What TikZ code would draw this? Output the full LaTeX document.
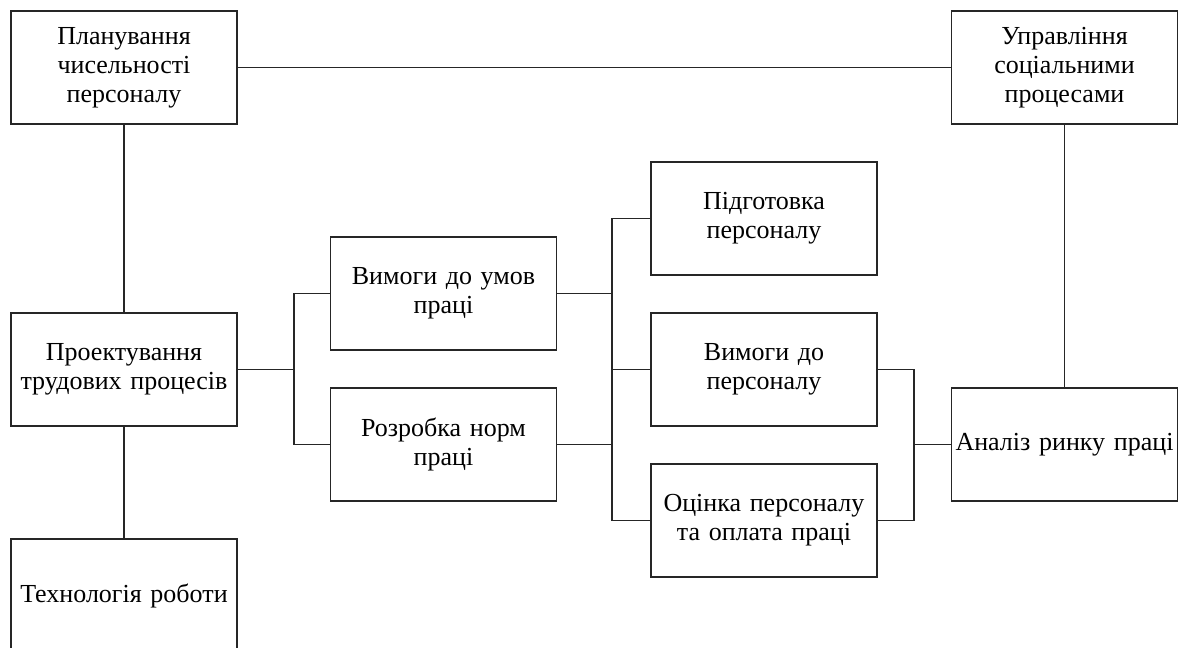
\documentclass[tikz,border=0pt]{standalone}
\usepackage{fontspec}
\setmainfont{Liberation Serif}
\usetikzlibrary{positioning, calc}

\tikzset{
  box/.style={draw=black!85, line width=1.1pt, fill=white, minimum width=4.52cm, minimum height=2.26cm,
    text width=4.45cm, align=center, inner sep=1pt, font=\fontsize{14.8}{16.6}\selectfont},
  link/.style={draw=black!85, line width=1.1pt}
}

\begin{document}
\begin{tikzpicture}[x=0.02cm, y=-0.02cm]
      \clip (0, 0) rectangle (1187, 647);
      \fill[white] (0, 0) rectangle (1187, 647);

      \node[box] (plan) at (124, 67.5) {Планування\\чисельності\\персоналу};
      \node[box] (upr) at (1064.5, 67.5) {Управління\\соціальними\\процесами};
      \node[box] (proj) at (124, 369.5) {Проектування\\трудових процесів};
      \node[box] (tech) at (124, 595.5) {Технологія роботи};

      \node[box] (umov) at (443.5, 293.5) {Вимоги до умов\\праці};
      \node[box] (norm) at (443.5, 444.5) {Розробка норм\\праці};

      \node[box] (pidg) at (764, 218.5) {Підготовка\\персоналу};
      \node[box] (vpers) at (764, 369.5) {Вимоги до\\персоналу};
      \node[box] (ocin) at (764, 520.5) {Оцінка персоналу\\та оплата праці};

      \node[box] (anal) at (1064.5, 444.5) {Аналіз ринку праці};

      \draw[link] (plan) -- (upr);
      \draw[link] (plan) -- (proj);
      \draw[link] (proj) -- (tech);
      \draw[link] (upr) -- (anal);

      \draw[link] (proj.east) -- ++(56, 0) coordinate (jl);
      \draw[link] (umov.west) -| (jl) |- (norm.west);

      \draw[link] (pidg.west) -- ++(-38, 0) coordinate (jr) |- (ocin.west);
      \draw[link] (umov.east) -- (umov.east -| jr);
      \draw[link] (norm.east) -- (norm.east -| jr);
      \draw[link] (vpers.west) -- (vpers.west -| jr);

      \draw[link] (vpers.east) -- ++(36, 0) coordinate (ja) |- (ocin.east);
      \draw[link] (anal.west) -- (anal.west -| ja);

    \end{tikzpicture}
\end{document}
